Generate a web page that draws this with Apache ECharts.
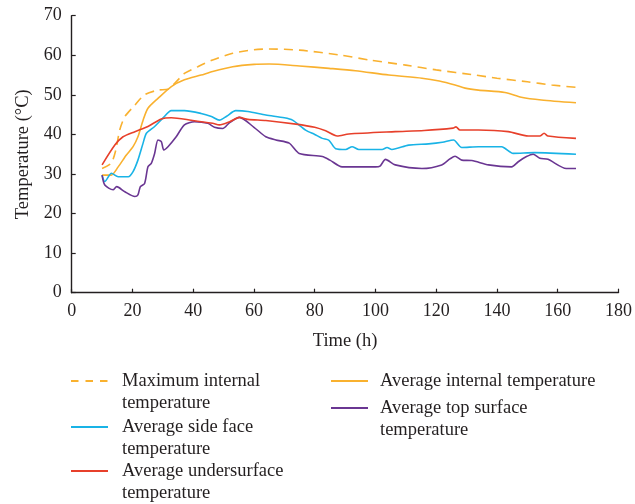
<!DOCTYPE html>
<html>
<head>
<meta charset="utf-8">
<script src="https://cdn.jsdelivr.net/npm/echarts@6/dist/echarts.min.js"></script>
<style>html,body{margin:0;padding:0;background:#fff}#c{width:635px;height:504px}</style>
</head>
<body>
<div id="c"></div>
<script>
var xTicks = [0, 20, 40, 60, 80, 100, 120, 140, 160, 180];
var yTicks = [0, 10, 20, 30, 40, 50, 60, 70];
var seriesNames = ['Maximum internal temperature', 'Average internal temperature', 'Average side face temperature', 'Average top surface temperature', 'Average undersurface temperature'];

var maxInternal = [[10,31.4],[13,32.7],[14.5,36],[15.8,41.1],[17.5,44.5],[20.8,47.4],[24,50],[28.4,51.2],[31.7,51.4],[33.9,52.9],[37.1,55.4],[41.5,57.1],[46.4,58.8],[53,60.5],[60,61.4],[65,61.6],[75,61.3],[88,60.1],[98,58.8],[110,57.5],[120,56.3],[132.8,55.0],[140,54.2],[150,53.3],[158,52.5],[166,51.9]];
var avgInternal = [[10,29.7],[13,29.7],[15.3,31.8],[18,34.8],[20.2,36.9],[21.8,39.4],[23.5,43.6],[25.1,46.6],[28.4,49.1],[32.8,52.1],[37.1,53.8],[42.6,55],[46.4,55.9],[53,57.1],[60,57.7],[65,57.8],[75,57.3],[84.7,56.7],[93.4,56.1],[104.4,55.0],[115.3,54.2],[121,53.5],[126.2,52.5],[129.5,51.7],[133.9,51.2],[142.6,50.6],[148,49.4],[154.6,48.7],[166,48.0]];
var sideFace = [[10,29.7],[10.9,28.1],[13.1,30.2],[15.3,29.3],[18.6,29.3],[20.2,30.6],[21.8,33.5],[23.5,37.8],[24.6,40.3],[27.3,42],[30,44.1],[32.8,46],[37.1,46],[42.6,45.3],[46,44.5],[48.6,43.6],[51,44.6],[54,46],[58,45.8],[63.9,44.9],[70,44.2],[72.7,43.6],[77,41.1],[80,40],[82.5,39],[84.7,38.5],[86.9,36.4],[90.2,36.2],[92.3,36.9],[94.5,36.2],[102.2,36.2],[103.8,36.7],[105.4,36.2],[110.9,37.3],[117.5,37.6],[122,38],[125.7,38.6],[128.4,36.7],[133.9,36.9],[141.5,36.9],[142.6,36.5],[145.3,35.2],[152.5,35.4],[166,35.0]];
var underSurface = [[10,32.3],[14.2,37.3],[16.9,39.4],[20.8,40.7],[25.1,42],[29.5,43.9],[32.8,44.2],[39.3,43.6],[46.4,42.8],[48.6,42.4],[52,43.2],[55.2,44.3],[58,43.8],[63.9,43.5],[73.8,42.6],[80,41.8],[83.6,40.9],[87.4,39.6],[91.2,40.1],[106.5,40.7],[116,41],[125.5,41.6],[126.5,41.9],[127.8,41.1],[133.9,41.1],[143.7,40.7],[150.3,39.6],[154.1,39.6],[155.5,40.3],[156.8,39.6],[166,39.0]];
var topSurface = [[10,29.7],[10.9,27.2],[13.6,26],[14.8,26.8],[17.5,25.5],[20.8,24.3],[21.8,24.7],[22.6,26.8],[24,27.6],[25.1,31.8],[26.2,32.7],[27.3,35.2],[28.4,38.6],[29.5,38.2],[30.3,36.1],[31.7,36.9],[34.4,39.4],[37.1,42.4],[40.4,43.2],[44.8,42.8],[47,41.8],[49.7,41.5],[52,43],[55.2,44.3],[60,41.8],[63.9,39.4],[67.2,38.6],[71.6,37.8],[74.9,35.2],[82.5,34.4],[85,33.5],[89,31.8],[100,31.8],[101.5,32],[103.3,33.7],[106.5,32.3],[115.3,31.4],[121.8,32.3],[124.5,33.8],[126.2,34.5],[128.4,33.5],[131.7,33.4],[137.2,32.3],[144.8,31.8],[147,33.1],[149.7,34.4],[151.9,35.0],[154.1,34.0],[156.8,33.7],[162.8,31.4],[166,31.4]];

var legendLabels = {
  'Maximum internal temperature': '\nMaximum internal\ntemperature',
  'Average internal temperature': 'Average internal temperature',
  'Average side face temperature': '\nAverage side face\ntemperature',
  'Average top surface temperature': '\nAverage top surface\ntemperature',
  'Average undersurface temperature': '\nAverage undersurface\ntemperature'
};

var FONT = 'Liberation Serif';
var TXT = '#231f20';
var colors = {orange: '#f9b12f', cyan: '#19b3e6', red: '#e7402b', purple: '#6a3692'};

function mkSeries(name, data, color, dashed) {
  return {
    name: name, type: 'line', data: data, symbol: 'none', smooth: 0.25,
    lineStyle: {color: color, width: 1.6, type: dashed ? [9, 6] : 'solid'},
    itemStyle: {color: color}, z: 3
  };
}

var LH = 22;
function mkLegend(name, iconLeft, lineY, padLeft, dashed) {
  var twoLine = legendLabels[name].indexOf('\n') >= 0;
  var lg = {
    data: [name], left: iconLeft, top: twoLine ? lineY - 1.5 * LH : lineY - LH / 2,
    padding: 0, itemWidth: 37, itemHeight: 12, orient: 'vertical',
    formatter: function (n) { return legendLabels[n]; },
    itemStyle: {opacity: 0, color: 'rgba(0,0,0,0)', borderWidth: 0},
    textStyle: {fontFamily: FONT, fontSize: 18.5, color: TXT, lineHeight: LH,
      padding: [0, 0, 0, padLeft]},
    selectedMode: false
  };
  if (dashed) { lg.lineStyle = {type: [7.5, 7]}; }
  return lg;
}

var chart = echarts.init(document.getElementById('c'), null, {renderer: 'canvas'});
chart.setOption({
  animation: false,
  backgroundColor: '#fff',
  grid: {left: 71.7, right: 14.3, top: 15.7, bottom: 211.3},
  xAxis: {
    type: 'value', min: xTicks[0], max: xTicks[xTicks.length - 1], interval: 20,
    name: 'Time (h)', nameLocation: 'middle', nameGap: 39,
    nameTextStyle: {fontFamily: FONT, fontSize: 18.5, color: TXT},
    axisLine: {show: true, lineStyle: {color: TXT, width: 1.4}},
    axisTick: {show: true, inside: true, length: 4, lineStyle: {color: TXT, width: 1.2}},
    axisLabel: {fontFamily: FONT, fontSize: 18, color: TXT, margin: 10},
    splitLine: {show: false}
  },
  yAxis: {
    type: 'value', min: yTicks[0], max: yTicks[yTicks.length - 1], interval: 10,
    name: 'Temperature (°C)', nameLocation: 'middle', nameGap: 35, nameRotate: 90,
    nameTextStyle: {fontFamily: FONT, fontSize: 18.5, color: TXT},
    axisLine: {show: true, lineStyle: {color: TXT, width: 1.4}},
    axisTick: {show: true, inside: true, length: 4, lineStyle: {color: TXT, width: 1.2}},
    axisLabel: {fontFamily: FONT, fontSize: 18, color: TXT, margin: 10},
    splitLine: {show: false}
  },
  legend: [
    mkLegend(seriesNames[0], 70, 381, 9, true),
    mkLegend(seriesNames[2], 70, 427, 9),
    mkLegend(seriesNames[4], 70, 471, 9),
    mkLegend(seriesNames[1], 330, 381, 7),
    mkLegend(seriesNames[3], 330, 408, 7)
  ],
  series: [
    mkSeries(seriesNames[0], maxInternal, colors.orange, true),
    mkSeries(seriesNames[1], avgInternal, colors.orange, false),
    mkSeries(seriesNames[2], sideFace, colors.cyan, false),
    mkSeries(seriesNames[3], topSurface, colors.purple, false),
    mkSeries(seriesNames[4], underSurface, colors.red, false)
  ]
});
</script>
</body>
</html>
